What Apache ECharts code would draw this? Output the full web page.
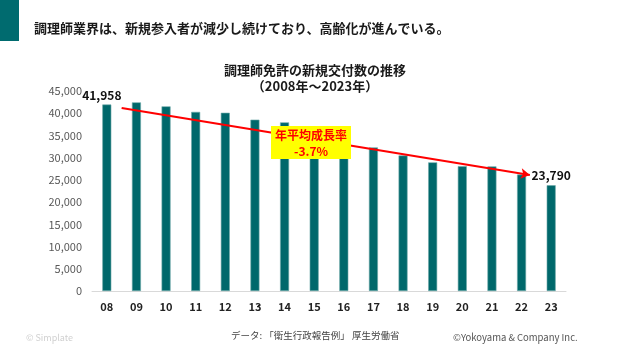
<!DOCTYPE html>
<html><head><meta charset="utf-8">
<script src="https://cdn.jsdelivr.net/npm/echarts@6/dist/echarts.min.js"></script>
<style>html,body{margin:0;padding:0;background:#fff}#c{width:620px;height:349px}</style>
</head><body><div id="c"></div>
<script>
const categories = ['08','09','10','11','12','13','14','15','16','17','18','19','20','21','22','23'];
const values = [41958,42450,41550,40300,40100,38550,37950,35800,33900,32300,30500,28950,28100,28050,26200,23790];
const yTicks = {min:0, max:45000, interval:5000};
const trendStart = [0.5, 41200];
const trendEnd = [14.28, 26100];
const labelledIdx = [0, 15];
const FONT = '"Noto Sans CJK JP","Noto Sans",sans-serif';

const chart = echarts.init(document.getElementById('c'), null, {renderer:'canvas'});
chart.setOption({
  animation:false,
  textStyle:{fontFamily:FONT},
  title:[
    {text:'調理師業界は、新規参入者が減少し続けており、高齢化が進んでいる。', left:29, top:17,
     textStyle:{fontSize:13, fontWeight:'bold', color:'#1a1a1a', fontFamily:FONT}},
    {text:'調理師免許の新規交付数の推移\n（2008年～2023年）', left:310, top:57, textAlign:'center',
     textStyle:{fontSize:13, fontWeight:'bold', color:'#1a1a1a', lineHeight:16, fontFamily:FONT}}
  ],
  graphic:[
    {type:'rect', left:0, top:0, shape:{width:19, height:41}, style:{fill:'#006b6f'}},
    {type:'rect', left:271, top:126, z:100, shape:{width:80, height:33}, style:{fill:'#ffff00'}},
    {type:'text', x:311, y:128, z:101,
     style:{text:'年平均成長率\n-3.7%', fill:'#ff0000', font:'bold 12px '+FONT, align:'center',
            verticalAlign:'top', lineHeight:15.5}},
    {type:'text', left:231, top:331, style:{text:'データ: 「衛生行政報告例」 厚生労働省', fill:'#444', font:'9.5px '+FONT}},
    {type:'text', left:26, top:333, style:{text:'© Simplate', fill:'#d0d0d0', font:'9px '+FONT}},
    {type:'text', left:453, top:333, style:{text:'©Yokoyama & Company Inc.', fill:'#555', font:'9.5px '+FONT}}
  ],
  grid:{left:92, right:54, top:91, bottom:58, containLabel:false},
  xAxis:[
    {type:'category', data:categories,
     axisLine:{lineStyle:{color:'#d9d9d9'}}, axisTick:{show:false},
     axisLabel:{fontSize:11, fontWeight:'bold', color:'#222', margin:10}},
    {type:'value', min:-0.5, max:15.5, show:false}
  ],
  yAxis:{type:'value', min:yTicks.min, max:yTicks.max, interval:yTicks.interval,
    axisLine:{show:false}, axisTick:{show:false}, splitLine:{show:false},
    axisLabel:{fontSize:11, color:'#595959', margin:10,
      formatter:v=>v.toLocaleString('en-US')}},
  series:[
    {type:'bar', data:values.map((v,i)=>({value:v,
        label: labelledIdx.includes(i) ? {show:true, position:'top', distance: i===0?3:4,
          offset: i===0?[-5,0]:[0,0],
          fontSize:12, fontWeight:'bold', color:'#111',
          formatter:p=>p.value.toLocaleString('en-US')} : {show:false}})),
     barWidth:9,
     itemStyle:{color:'#00686b', borderColor:'#6fa9aa', borderWidth:0.6}},
    {type:'line', xAxisIndex:1, data:[], silent:true,
     markLine:{silent:true, symbol:['none','arrow'], symbolSize:[8,9],
       label:{show:false},
       lineStyle:{color:'#ff0000', width:2, type:'solid'},
       data:[[{coord:trendStart},{coord:trendEnd}]]}}
  ]
});
</script></body></html>
